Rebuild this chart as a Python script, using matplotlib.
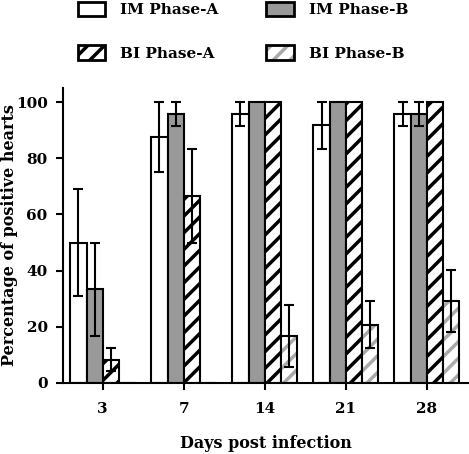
import numpy as np
import matplotlib.pyplot as plt
from matplotlib.patches import Patch

# Data
days = ['3', '7', '14', '21', '28']
im_a = [50.0, 87.5, 95.8, 91.7, 95.8]
im_a_err = [19.0, 12.5, 4.2, 8.3, 4.2]
im_b = [33.3, 95.8, 100.0, 100.0, 95.8]
im_b_err = [16.7, 4.2, 0.0, 0.0, 4.2]
bi_a = [8.3, 66.7, 100.0, 100.0, 100.0]
bi_a_err = [4.2, 16.7, 0.0, 0.0, 0.0]
bi_b = [0.0, 0.0, 16.7, 20.8, 29.2]
bi_b_err = [0.0, 0.0, 11.0, 8.3, 11.0]

plt.rcParams['font.family'] = 'DejaVu Serif'
plt.rcParams['font.weight'] = 'bold'
plt.rcParams['axes.labelweight'] = 'bold'
plt.rcParams['font.size'] = 11
plt.rcParams['hatch.linewidth'] = 2.5

fig = plt.figure(figsize=(4.69, 4.54), dpi=100)
ax = fig.add_axes([63/469, 71/454, 406/469, 295/454])

x = np.arange(len(days))
w = 0.2
offs = [-1.5*w, -0.5*w, 0.5*w, 1.5*w]
lw = 1.5

ax.bar(x + offs[0], im_a, w, color='white', edgecolor='black', linewidth=lw, zorder=2)
ax.bar(x + offs[1], im_b, w, color='#999999', edgecolor='black', linewidth=lw, zorder=2)
ax.bar(x + offs[2], bi_a, w, color='white', edgecolor='black', hatch='//', linewidth=lw, zorder=2)
# grey hatch under a black outline
ax.bar(x + offs[3], bi_b, w, color='white', edgecolor='#aaaaaa', hatch='//', linewidth=0, zorder=2)
ax.bar(x + offs[3], bi_b, w, color='none', edgecolor='black', linewidth=lw, zorder=2)

for off, vals, errs in [(offs[0], im_a, im_a_err), (offs[1], im_b, im_b_err),
                        (offs[2], bi_a, bi_a_err), (offs[3], bi_b, bi_b_err)]:
    vals = np.array(vals)
    errs = np.array(errs)
    m = errs > 0
    ax.errorbar(x[m] + off, vals[m], yerr=errs[m], fmt='none', ecolor='black',
                elinewidth=1.5, capsize=3.5, capthick=1.5, zorder=3)

ax.set_xlim(-0.49, 4.52)
ax.set_ylim(0, 105)
ax.set_xticks(x)
ax.set_xticklabels(days)
ax.set_yticks([0, 20, 40, 60, 80, 100])
for s in ['top', 'right']:
    ax.spines[s].set_visible(False)
for s in ['left', 'bottom']:
    ax.spines[s].set_linewidth(1.5)
ax.tick_params(axis='x', length=5, width=1.5, pad=9)
ax.tick_params(axis='y', length=5, width=1.5, pad=6)
ax.set_xlabel('Days post infection', fontsize=11.5, labelpad=13)
ax.set_ylabel('Percentage of positive hearts', fontsize=11.5)
ax.yaxis.set_label_coords(-0.112, 0.5)

handles = [
    Patch(facecolor='white', edgecolor='black', linewidth=2),
    Patch(facecolor='white', edgecolor='black', hatch='//', linewidth=2),
    Patch(facecolor='#999999', edgecolor='black', linewidth=2),
    (Patch(facecolor='white', edgecolor='#aaaaaa', hatch='//', linewidth=0),
     Patch(facecolor='none', edgecolor='black', linewidth=2)),
]
labels = ['IM Phase-A', 'BI Phase-A', 'IM Phase-B', 'BI Phase-B']
fig.legend(handles, labels, ncol=2, loc='upper left', bbox_to_anchor=(70/469, 1 + 6/454),
           frameon=False, borderpad=0, handlelength=1.8, handleheight=1.1,
           handletextpad=1.0, labelspacing=1.85, columnspacing=3.1)

fig.savefig('out.png', dpi=100)
